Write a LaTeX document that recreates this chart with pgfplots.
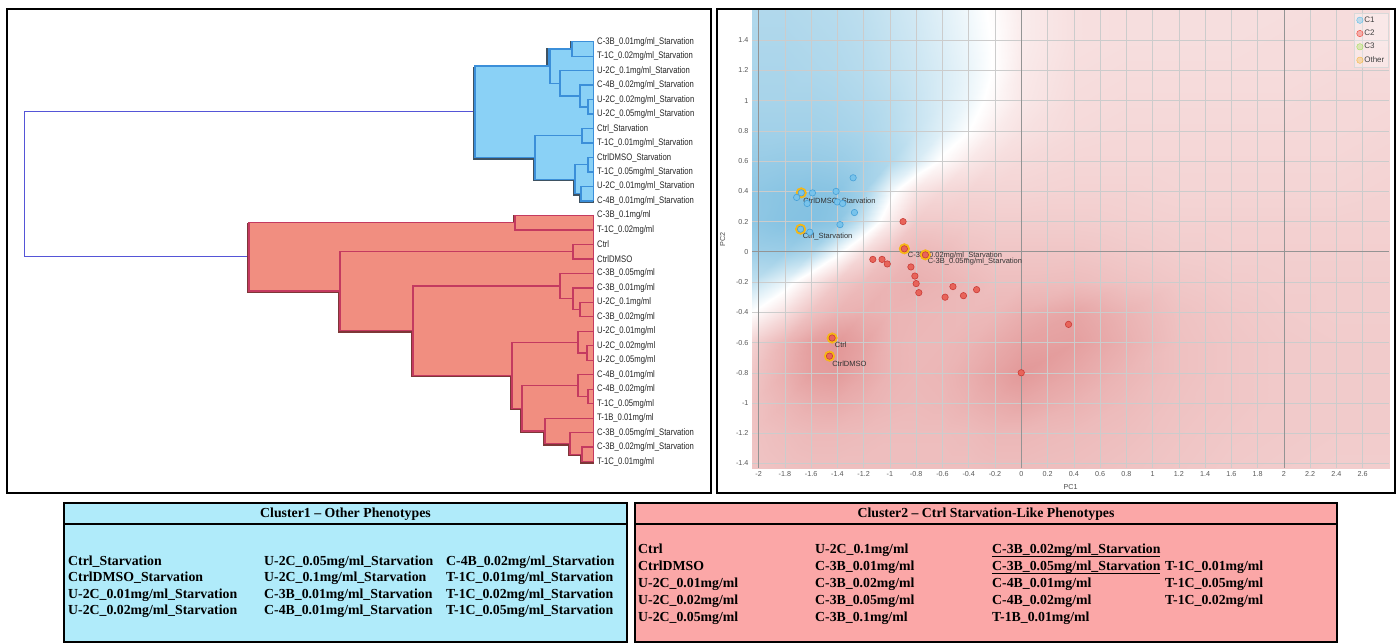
\documentclass[border=0pt]{standalone}
\usepackage{fontspec}
\setmainfont{Liberation Sans}
\newfontfamily\narrowfont[FakeStretch=0.81]{Liberation Sans}
\newfontfamily\timesfont{Liberation Serif}
\usepackage{pgfplots}
\pgfplotsset{compat=1.18}
\usepackage{pgfplotstable}

\definecolor{bluefill}{RGB}{138,209,246}
\definecolor{blueline}{RGB}{59,143,217}
\definecolor{blueshadow}{RGB}{62,82,98}
\definecolor{redfill}{RGB}{241,142,128}
\definecolor{redline}{RGB}{196,58,96}
\definecolor{redshadow}{RGB}{125,55,55}
\definecolor{rootline}{RGB}{85,85,215}
\definecolor{cOne}{RGB}{120,195,235}
\definecolor{cOneD}{RGB}{70,160,215}
\definecolor{cTwo}{RGB}{232,100,90}
\definecolor{cTwoD}{RGB}{200,60,55}
\definecolor{cOneL}{RGB}{90,190,235}
\definecolor{cTwoL}{RGB}{238,64,53}
\definecolor{cThree}{RGB}{166,224,91}
\definecolor{cOther}{RGB}{247,185,20}
\definecolor{cOtherL}{RGB}{245,183,64}
\definecolor{tabblue}{RGB}{176,235,250}
\definecolor{tabred}{RGB}{251,167,167}

\pgfplotsset{
  bl/.style={blueline, line width=1.3pt, forget plot},
  rl/.style={redline, line width=1.3pt, forget plot},
  colormap={bgmap}{rgb255=(125,190,224) rgb255=(186,221,238) rgb255=(255,255,255) rgb255=(245,216,216) rgb255=(235,180,180) rgb255=(222,138,138)}
}

\pgfplotstableread[row sep=\\]{
x y v\\
-2.05 1.6 -1.15\\ -1.8 1.6 -1.15\\ -1.6 1.6 -1.1\\ -1.4 1.6 -1.05\\ -1.2 1.6 -0.95\\ -1.0 1.6 -0.8\\ -0.8 1.6 -0.65\\ -0.6 1.6 -0.45\\ -0.4 1.6 -0.2\\ -0.2 1.6 0.1\\ 0 1.6 0.5\\ 0.4 1.6 0.8\\ 0.8 1.6 0.85\\ 1.2 1.6 0.85\\ 1.6 1.6 0.85\\ 2.0 1.6 0.85\\ 2.4 1.6 0.9\\ 2.8 1.6 0.9\\
-2.05 1.4 -1.2\\ -1.8 1.4 -1.2\\ -1.6 1.4 -1.15\\ -1.4 1.4 -1.1\\ -1.2 1.4 -1.0\\ -1.0 1.4 -0.85\\ -0.8 1.4 -0.7\\ -0.6 1.4 -0.5\\ -0.4 1.4 -0.25\\ -0.2 1.4 0.05\\ 0 1.4 0.5\\ 0.4 1.4 0.8\\ 0.8 1.4 0.85\\ 1.2 1.4 0.85\\ 1.6 1.4 0.85\\ 2.0 1.4 0.9\\ 2.4 1.4 0.9\\ 2.8 1.4 0.9\\
-2.05 1.2 -1.25\\ -1.8 1.2 -1.25\\ -1.6 1.2 -1.2\\ -1.4 1.2 -1.15\\ -1.2 1.2 -1.05\\ -1.0 1.2 -0.9\\ -0.8 1.2 -0.75\\ -0.6 1.2 -0.55\\ -0.4 1.2 -0.3\\ -0.2 1.2 0.05\\ 0 1.2 0.55\\ 0.4 1.2 0.85\\ 0.8 1.2 0.9\\ 1.2 1.2 0.9\\ 1.6 1.2 0.9\\ 2.0 1.2 0.9\\ 2.4 1.2 0.95\\ 2.8 1.2 0.95\\
-2.05 1.0 -1.3\\ -1.8 1.0 -1.3\\ -1.6 1.0 -1.3\\ -1.4 1.0 -1.25\\ -1.2 1.0 -1.15\\ -1.0 1.0 -1.0\\ -0.8 1.0 -0.8\\ -0.6 1.0 -0.55\\ -0.4 1.0 -0.25\\ -0.2 1.0 0.2\\ 0 1.0 0.6\\ 0.4 1.0 0.9\\ 0.8 1.0 0.95\\ 1.2 1.0 0.95\\ 1.6 1.0 0.95\\ 2.0 1.0 0.95\\ 2.4 1.0 1.0\\ 2.8 1.0 1.0\\
-2.05 0.8 -1.4\\ -1.8 0.8 -1.4\\ -1.6 0.8 -1.4\\ -1.4 0.8 -1.35\\ -1.2 0.8 -1.25\\ -1.0 0.8 -1.05\\ -0.8 0.8 -0.8\\ -0.6 0.8 -0.45\\ -0.4 0.8 0.0\\ -0.2 0.8 0.5\\ 0 0.8 0.75\\ 0.4 0.8 0.95\\ 0.8 0.8 1.0\\ 1.2 0.8 1.0\\ 1.6 0.8 1.0\\ 2.0 0.8 1.0\\ 2.4 0.8 1.0\\ 2.8 0.8 1.05\\
-2.05 0.6 -1.55\\ -1.8 0.6 -1.6\\ -1.6 0.6 -1.6\\ -1.4 0.6 -1.55\\ -1.2 0.6 -1.4\\ -1.0 0.6 -1.15\\ -0.8 0.6 -0.6\\ -0.6 0.6 0.1\\ -0.4 0.6 0.6\\ -0.2 0.6 0.85\\ 0 0.6 0.95\\ 0.4 0.6 1.05\\ 0.8 0.6 1.05\\ 1.2 0.6 1.05\\ 1.6 0.6 1.05\\ 2.0 0.6 1.05\\ 2.4 0.6 1.05\\ 2.8 0.6 1.1\\
-2.05 0.4 -1.7\\ -1.8 0.4 -1.8\\ -1.6 0.4 -1.85\\ -1.4 0.4 -1.8\\ -1.2 0.4 -1.4\\ -1.0 0.4 -0.2\\ -0.8 0.4 0.7\\ -0.6 0.4 1.0\\ -0.4 0.4 1.1\\ -0.2 0.4 1.1\\ 0 0.4 1.1\\ 0.4 0.4 1.15\\ 0.8 0.4 1.15\\ 1.2 0.4 1.1\\ 1.6 0.4 1.1\\ 2.0 0.4 1.1\\ 2.4 0.4 1.1\\ 2.8 0.4 1.15\\
-2.05 0.2 -1.7\\ -1.8 0.2 -1.85\\ -1.6 0.2 -1.9\\ -1.4 0.2 -1.75\\ -1.2 0.2 -0.7\\ -1.0 0.2 0.5\\ -0.8 0.2 1.4\\ -0.6 0.2 1.4\\ -0.4 0.2 1.35\\ -0.2 0.2 1.3\\ 0 0.2 1.3\\ 0.4 0.2 1.3\\ 0.8 0.2 1.25\\ 1.2 0.2 1.2\\ 1.6 0.2 1.2\\ 2.0 0.2 1.2\\ 2.4 0.2 1.2\\ 2.8 0.2 1.2\\
-2.05 0 -1.45\\ -1.8 0 -1.5\\ -1.6 0 -1.2\\ -1.4 0 -0.2\\ -1.2 0 0.9\\ -1.0 0 1.6\\ -0.8 0 1.9\\ -0.6 0 1.8\\ -0.4 0 1.6\\ -0.2 0 1.5\\ 0 0 1.5\\ 0.4 0 1.5\\ 0.8 0 1.4\\ 1.2 0 1.3\\ 1.6 0 1.25\\ 2.0 0 1.25\\ 2.4 0 1.25\\ 2.8 0 1.25\\
-2.05 -0.2 -0.9\\ -1.8 -0.2 -0.3\\ -1.6 -0.2 0.6\\ -1.4 -0.2 1.4\\ -1.2 -0.2 1.8\\ -1.0 -0.2 2.0\\ -0.8 -0.2 2.1\\ -0.6 -0.2 2.0\\ -0.4 -0.2 1.85\\ -0.2 -0.2 1.7\\ 0 -0.2 1.7\\ 0.4 -0.2 1.75\\ 0.8 -0.2 1.6\\ 1.2 -0.2 1.45\\ 1.6 -0.2 1.35\\ 2.0 -0.2 1.3\\ 2.4 -0.2 1.3\\ 2.8 -0.2 1.3\\
-2.05 -0.4 0.0\\ -1.8 -0.4 0.8\\ -1.6 -0.4 1.6\\ -1.4 -0.4 2.0\\ -1.2 -0.4 2.1\\ -1.0 -0.4 2.0\\ -0.8 -0.4 1.95\\ -0.6 -0.4 1.9\\ -0.4 -0.4 1.85\\ -0.2 -0.4 1.9\\ 0 -0.4 2.1\\ 0.4 -0.4 2.35\\ 0.8 -0.4 2.0\\ 1.2 -0.4 1.6\\ 1.6 -0.4 1.45\\ 2.0 -0.4 1.35\\ 2.4 -0.4 1.3\\ 2.8 -0.4 1.3\\
-2.05 -0.6 1.2\\ -1.8 -0.6 2.0\\ -1.6 -0.6 2.5\\ -1.4 -0.6 2.7\\ -1.2 -0.6 2.4\\ -1.0 -0.6 2.0\\ -0.8 -0.6 1.9\\ -0.6 -0.6 1.9\\ -0.4 -0.6 2.0\\ -0.2 -0.6 2.2\\ 0 -0.6 2.4\\ 0.4 -0.6 2.5\\ 0.8 -0.6 2.1\\ 1.2 -0.6 1.65\\ 1.6 -0.6 1.5\\ 2.0 -0.6 1.4\\ 2.4 -0.6 1.35\\ 2.8 -0.6 1.35\\
-2.05 -0.8 1.5\\ -1.8 -0.8 2.1\\ -1.6 -0.8 2.5\\ -1.4 -0.8 2.6\\ -1.2 -0.8 2.3\\ -1.0 -0.8 2.0\\ -0.8 -0.8 1.9\\ -0.6 -0.8 1.95\\ -0.4 -0.8 2.15\\ -0.2 -0.8 2.4\\ 0 -0.8 2.65\\ 0.4 -0.8 2.3\\ 0.8 -0.8 1.95\\ 1.2 -0.8 1.65\\ 1.6 -0.8 1.5\\ 2.0 -0.8 1.4\\ 2.4 -0.8 1.35\\ 2.8 -0.8 1.35\\
-2.05 -1.0 1.6\\ -1.8 -1.0 1.95\\ -1.6 -1.0 2.15\\ -1.4 -1.0 2.2\\ -1.2 -1.0 2.05\\ -1.0 -1.0 1.9\\ -0.8 -1.0 1.85\\ -0.6 -1.0 1.9\\ -0.4 -1.0 2.05\\ -0.2 -1.0 2.2\\ 0 -1.0 2.3\\ 0.4 -1.0 2.05\\ 0.8 -1.0 1.8\\ 1.2 -1.0 1.6\\ 1.6 -1.0 1.5\\ 2.0 -1.0 1.4\\ 2.4 -1.0 1.35\\ 2.8 -1.0 1.35\\
-2.05 -1.2 1.6\\ -1.8 -1.2 1.75\\ -1.6 -1.2 1.85\\ -1.4 -1.2 1.85\\ -1.2 -1.2 1.8\\ -1.0 -1.2 1.75\\ -0.8 -1.2 1.75\\ -0.6 -1.2 1.75\\ -0.4 -1.2 1.8\\ -0.2 -1.2 1.9\\ 0 -1.2 1.9\\ 0.4 -1.2 1.8\\ 0.8 -1.2 1.7\\ 1.2 -1.2 1.55\\ 1.6 -1.2 1.45\\ 2.0 -1.2 1.4\\ 2.4 -1.2 1.35\\ 2.8 -1.2 1.35\\
-2.05 -1.43 1.55\\ -1.8 -1.43 1.65\\ -1.6 -1.43 1.7\\ -1.4 -1.43 1.7\\ -1.2 -1.43 1.7\\ -1.0 -1.43 1.7\\ -0.8 -1.43 1.7\\ -0.6 -1.43 1.7\\ -0.4 -1.43 1.7\\ -0.2 -1.43 1.75\\ 0 -1.43 1.75\\ 0.4 -1.43 1.7\\ 0.8 -1.43 1.6\\ 1.2 -1.43 1.5\\ 1.6 -1.43 1.4\\ 2.0 -1.43 1.35\\ 2.4 -1.43 1.3\\ 2.8 -1.43 1.3\\
}\bgfield

\newcommand{\tb}{\timesfont\bfseries\fontsize{13.8}{15}\selectfont}

\begin{document}
\begin{tikzpicture}[x=1pt,y=1pt]
\useasboundingbox (0,0) rectangle (1400,643);
\fill[white] (0,0) rectangle (1400,643);

% ---------------- Dendrogram ----------------
\begin{axis}[
  at={(20pt,615.78pt)}, anchor=north west,
  scale only axis, width=576pt, height=448.88pt,
  xmin=20, xmax=596, ymin=-1, ymax=30, y dir=reverse,
  axis line style={draw=none}, xtick=\empty,
  ytick={0,...,29}, yticklabel pos=right,
  yticklabels={C-3B\_0.01mg/ml\_Starvation,T-1C\_0.02mg/ml\_Starvation,U-2C\_0.1mg/ml\_Starvation,C-4B\_0.02mg/ml\_Starvation,U-2C\_0.02mg/ml\_Starvation,U-2C\_0.05mg/ml\_Starvation,Ctrl\_Starvation,T-1C\_0.01mg/ml\_Starvation,CtrlDMSO\_Starvation,T-1C\_0.05mg/ml\_Starvation,U-2C\_0.01mg/ml\_Starvation,C-4B\_0.01mg/ml\_Starvation,C-3B\_0.1mg/ml,T-1C\_0.02mg/ml,Ctrl,CtrlDMSO,C-3B\_0.05mg/ml,C-3B\_0.01mg/ml,U-2C\_0.1mg/ml,C-3B\_0.02mg/ml,U-2C\_0.01mg/ml,U-2C\_0.02mg/ml,U-2C\_0.05mg/ml,C-4B\_0.01mg/ml,C-4B\_0.02mg/ml,T-1C\_0.05mg/ml,T-1B\_0.01mg/ml,C-3B\_0.05mg/ml\_Starvation,C-3B\_0.02mg/ml\_Starvation,T-1C\_0.01mg/ml},
  major tick length=0pt,
  yticklabel style={font=\narrowfont\fontsize{9.5}{10}\selectfont, text=black!85, inner sep=1pt},
  clip=false,
]
\addplot[rootline, line width=1pt, forget plot] coordinates {(475,4.84375) (24,4.84375) (24,14.86328) (249,14.86328)};
% blue cluster region
\addplot[draw=blueshadow, fill=blueshadow, line width=2.8pt, line join=miter, xshift=-0.6pt, yshift=-0.6pt, forget plot] coordinates {(475,1.6875) (548,1.6875) (548,0.5) (572,0.5) (572,0) (593,0) (593,11) (581,11) (581,10.5) (575,10.5) (575,9.5) (535,9.5) (535,8) (475,8) (475,1.6875)};
\addplot[draw=blueline, fill=bluefill, line width=1pt, forget plot] coordinates {(475,1.6875) (548,1.6875) (548,0.5) (572,0.5) (572,0) (593,0) (593,11) (581,11) (581,10.5) (575,10.5) (575,9.5) (535,9.5) (535,8) (475,8) (475,1.6875)};
\addplot[bl] coordinates {(593,0) (572,0) (572,1) (593,1)};
\addplot[bl] coordinates {(593,4) (588,4) (588,5) (593,5)};
\addplot[bl] coordinates {(593,3) (580,3) (580,4.5) (588,4.5)};
\addplot[bl] coordinates {(593,2) (560,2) (560,3.75) (580,3.75)};
\addplot[bl] coordinates {(572,0.5) (550,0.5) (550,2.875) (560,2.875)};
\addplot[bl] coordinates {(593,6) (582,6) (582,7) (593,7)};
\addplot[bl] coordinates {(593,8) (588,8) (588,9) (593,9)};
\addplot[bl] coordinates {(593,10) (581,10) (581,11) (593,11)};
\addplot[bl] coordinates {(588,8.5) (575,8.5) (575,10.5) (581,10.5)};
\addplot[bl] coordinates {(582,6.5) (535,6.5) (535,9.5) (575,9.5)};
\addplot[bl] coordinates {(550,1.6875) (475,1.6875) (475,8) (535,8)};
% red cluster region
\addplot[draw=redshadow, fill=redshadow, line width=2.8pt, line join=miter, xshift=-0.6pt, yshift=-0.6pt, forget plot] coordinates {(249,12.5) (515,12.5) (515,12) (593,12) (593,29) (582,29) (582,28.5) (570,28.5) (570,27.75) (545,27.75) (545,26.875) (522,26.875) (522,25.3125) (512,25.3125) (512,23.03125) (413,23.03125) (413,19.953125) (340,19.953125) (340,17.2265625) (249,17.2265625) (249,12.5)};
\addplot[draw=redline, fill=redfill, line width=1pt, forget plot] coordinates {(249,12.5) (515,12.5) (515,12) (593,12) (593,29) (582,29) (582,28.5) (570,28.5) (570,27.75) (545,27.75) (545,26.875) (522,26.875) (522,25.3125) (512,25.3125) (512,23.03125) (413,23.03125) (413,19.953125) (340,19.953125) (340,17.2265625) (249,17.2265625) (249,12.5)};
\addplot[rl] coordinates {(593,12) (515,12) (515,13) (593,13)};
\addplot[rl] coordinates {(593,14) (573,14) (573,15) (593,15)};
\addplot[rl] coordinates {(593,18) (580,18) (580,19) (593,19)};
\addplot[rl] coordinates {(593,17) (573,17) (573,18.5) (580,18.5)};
\addplot[rl] coordinates {(593,16) (560,16) (560,17.75) (573,17.75)};
\addplot[rl] coordinates {(593,21) (587,21) (587,22) (593,22)};
\addplot[rl] coordinates {(593,20) (578,20) (578,21.5) (587,21.5)};
\addplot[rl] coordinates {(593,24) (588,24) (588,25) (593,25)};
\addplot[rl] coordinates {(593,23) (578,23) (578,24.5) (588,24.5)};
\addplot[rl] coordinates {(593,28) (582,28) (582,29) (593,29)};
\addplot[rl] coordinates {(593,27) (570,27) (570,28.5) (582,28.5)};
\addplot[rl] coordinates {(593,26) (545,26) (545,27.75) (570,27.75)};
\addplot[rl] coordinates {(578,23.75) (522,23.75) (522,26.875) (545,26.875)};
\addplot[rl] coordinates {(578,20.75) (512,20.75) (512,25.3125) (522,25.3125)};
\addplot[rl] coordinates {(560,16.875) (413,16.875) (413,23.03125) (512,23.03125)};
\addplot[rl] coordinates {(573,14.5) (340,14.5) (340,19.953125) (413,19.953125)};
\addplot[rl] coordinates {(515,12.5) (249,12.5) (249,17.2265625) (340,17.2265625)};
\end{axis}

% ---------------- PCA scatter ----------------
\begin{axis}[
  at={(752pt,633pt)}, anchor=north west,
  scale only axis, width=637pt, height=458pt,
  xmin=-2.05, xmax=2.8, ymin=-1.43, ymax=1.6,
  axis x line*=bottom, axis y line*=left,
  axis line style={black!55, line width=0.8pt, -},
  xtick={-2,-1.8,-1.6,-1.4,-1.2,-1,-0.8,-0.6,-0.4,-0.2,0,0.2,0.4,0.6,0.8,1,1.2,1.4,1.6,1.8,2,2.2,2.4,2.6},
  ytick={-1.4,-1.2,-1,-0.8,-0.6,-0.4,-0.2,0,0.2,0.4,0.6,0.8,1,1.2,1.4},
  tick style={draw=none},
  tick label style={font=\fontsize{7.2}{8}\selectfont, text=black!65},
  /pgf/number format/assume math mode=true,
  xlabel={PC1}, ylabel={PC2},
  label style={font=\fontsize{7.2}{8}\selectfont, text=black!70},
  xlabel style={yshift=-1pt}, ylabel style={yshift=4pt},
  colormap name=bgmap, point meta min=-2, point meta max=3,
  legend style={at={(1,1)}, anchor=north east, xshift=-1pt, yshift=-3pt, draw=black!15, fill=white, fill opacity=0.35, text opacity=1, font=\fontsize{8}{9}\selectfont, text=black!75, inner sep=2.5pt, row sep=4.2pt, nodes={inner sep=1pt}},
  legend cell align=left,
  legend image code/.code={\fill[#1] (0.12cm,0cm) circle (3.2pt);},
]
\addplot[surf, shader=interp, mesh/cols=18, point meta=\thisrow{v}, forget plot] table[x=x,y=y] {\bgfield};

\pgfplotsinvokeforeach{-1.8,-1.6,-1.4,-1.2,-1,-0.8,-0.6,-0.4,-0.2,0.2,0.4,0.6,0.8,1,1.2,1.4,1.6,1.8,2.2,2.4,2.6}{
  \draw[black!20, line width=0.5pt] (axis cs:#1,-1.43) -- (axis cs:#1,1.6);}
\pgfplotsinvokeforeach{-1.4,-1.2,-1,-0.8,-0.6,-0.4,-0.2,0.2,0.4,0.6,0.8,1,1.2,1.4}{
  \draw[black!20, line width=0.5pt] (axis cs:-2.05,#1) -- (axis cs:2.8,#1);}
\pgfplotsinvokeforeach{-2,0,2}{
  \draw[black!42, line width=0.7pt] (axis cs:#1,-1.43) -- (axis cs:#1,1.6);}
\draw[black!42, line width=0.7pt] (axis cs:-2.05,0) -- (axis cs:2.8,0);

\addlegendimage{cOneL}\addlegendentry{C1}
\addlegendimage{cTwoL}\addlegendentry{C2}
\addlegendimage{cThree}\addlegendentry{C3}
\addlegendimage{cOtherL}\addlegendentry{Other}

\addplot[only marks, mark=*, mark size=5.3pt, mark options={draw=cOther!90!orange, fill=cOther}, forget plot] coordinates {
(-1.675,0.39) (-1.68,0.15) (-0.89,0.02) (-0.73,-0.02) (-1.44,-0.57) (-1.46,-0.69)};
\addplot[only marks, mark=*, mark size=3.2pt, mark options={draw=cOneD, fill=cOne, line width=0.6pt}, forget plot] coordinates {
(-1.28,0.49) (-1.41,0.40) (-1.59,0.39) (-1.675,0.39) (-1.71,0.36) (-1.63,0.32) (-1.40,0.33) (-1.36,0.32) (-1.27,0.26) (-1.38,0.18) (-1.68,0.15) (-1.61,0.13)};
\addplot[only marks, mark=*, mark size=3.2pt, mark options={draw=cTwoD, fill=cTwo, line width=0.6pt}, forget plot] coordinates {
(-0.90,0.20) (-0.89,0.02) (-0.73,-0.02) (-1.13,-0.05) (-1.06,-0.05) (-1.02,-0.08) (-0.84,-0.10) (-0.81,-0.16) (-0.80,-0.21) (-0.78,-0.27) (-0.58,-0.30) (-0.52,-0.23) (-0.44,-0.29) (-0.34,-0.25) (-1.44,-0.57) (-1.46,-0.69) (0,-0.80) (0.36,-0.48)};

\node[anchor=west, inner sep=0pt, font=\fontsize{7.5}{8}\selectfont, text=black!80] at (axis cs:-1.66,0.335) {CtrlDMSO\_Starvation};
\node[anchor=west, inner sep=0pt, font=\fontsize{7.5}{8}\selectfont, text=black!80] at (axis cs:-1.665,0.10) {Ctrl\_Starvation};
\node[anchor=west, inner sep=0pt, font=\fontsize{7.5}{8}\selectfont, text=black!80] at (axis cs:-0.865,-0.024) {C-3B\_0.02mg/ml\_Starvation};
\node[anchor=west, inner sep=0pt, font=\fontsize{7.5}{8}\selectfont, text=black!80] at (axis cs:-0.713,-0.064) {C-3B\_0.05mg/ml\_Starvation};
\node[anchor=west, inner sep=0pt, font=\fontsize{7.5}{8}\selectfont, text=black!80] at (axis cs:-1.42,-0.615) {Ctrl};
\node[anchor=west, inner sep=0pt, font=\fontsize{7.5}{8}\selectfont, text=black!80] at (axis cs:-1.44,-0.743) {CtrlDMSO};
\end{axis}

% ---------------- frames and tables (pixel coords, y down) ----------------
\begin{scope}[shift={(0,643)}, y=-1pt]
\draw[line width=2pt] (7,9) rectangle (711,493);
\draw[line width=2pt] (717,9) rectangle (1395,493);

\fill[tabblue] (64,503) rectangle (627,642);
\draw[line width=1.8pt] (64,642) -- (64,503) -- (627,503) -- (627,642) -- cycle;
\draw[line width=1.8pt] (64,524) -- (627,524);
\node[font=\tb, inner sep=0pt] at (345.5,514) {Cluster1 – Other Phenotypes};
\begin{scope}[every node/.style={anchor=base west, inner sep=0pt, font=\tb}]
\node at (68,565.6) {Ctrl\_Starvation};
\node at (68,581.6) {CtrlDMSO\_Starvation};
\node at (68,598.6) {U-2C\_0.01mg/ml\_Starvation};
\node at (68,614.6) {U-2C\_0.02mg/ml\_Starvation};
\node at (264,565.6) {U-2C\_0.05mg/ml\_Starvation};
\node at (264,581.6) {U-2C\_0.1mg/ml\_Starvation};
\node at (264,598.6) {C-3B\_0.01mg/ml\_Starvation};
\node at (264,614.6) {C-4B\_0.01mg/ml\_Starvation};
\node at (446,565.6) {C-4B\_0.02mg/ml\_Starvation};
\node at (446,581.6) {T-1C\_0.01mg/ml\_Starvation};
\node at (446,598.6) {T-1C\_0.02mg/ml\_Starvation};
\node at (446,614.6) {T-1C\_0.05mg/ml\_Starvation};
\end{scope}

\fill[tabred] (635,503) rectangle (1337,642);
\draw[line width=1.8pt] (635,642) -- (635,503) -- (1337,503) -- (1337,642) -- cycle;
\draw[line width=1.8pt] (635,524) -- (1337,524);
\node[font=\tb, inner sep=0pt] at (986,514) {Cluster2 – Ctrl Starvation-Like Phenotypes};
\begin{scope}[every node/.style={anchor=base west, inner sep=0pt, font=\tb}]
\node at (638,553.6) {Ctrl};
\node at (638,570.6) {CtrlDMSO};
\node at (638,587.6) {U-2C\_0.01mg/ml};
\node at (638,604.6) {U-2C\_0.02mg/ml};
\node at (638,621.6) {U-2C\_0.05mg/ml};
\node at (815,553.6) {U-2C\_0.1mg/ml};
\node at (815,570.6) {C-3B\_0.01mg/ml};
\node at (815,587.6) {C-3B\_0.02mg/ml};
\node at (815,604.6) {C-3B\_0.05mg/ml};
\node at (815,621.6) {C-3B\_0.1mg/ml};
\node at (992,553.6) {C-3B\_0.02mg/ml\_Starvation};
\node at (992,570.6) {C-3B\_0.05mg/ml\_Starvation};
\draw[line width=0.7pt] (992,556.2) -- (1160,556.2);
\draw[line width=0.7pt] (992,573.2) -- (1160,573.2);
\node at (992,587.6) {C-4B\_0.01mg/ml};
\node at (992,604.6) {C-4B\_0.02mg/ml};
\node at (992,621.6) {T-1B\_0.01mg/ml};
\node at (1165,570.6) {T-1C\_0.01mg/ml};
\node at (1165,587.6) {T-1C\_0.05mg/ml};
\node at (1165,604.6) {T-1C\_0.02mg/ml};
\end{scope}
\end{scope}
\end{tikzpicture}
\end{document}
